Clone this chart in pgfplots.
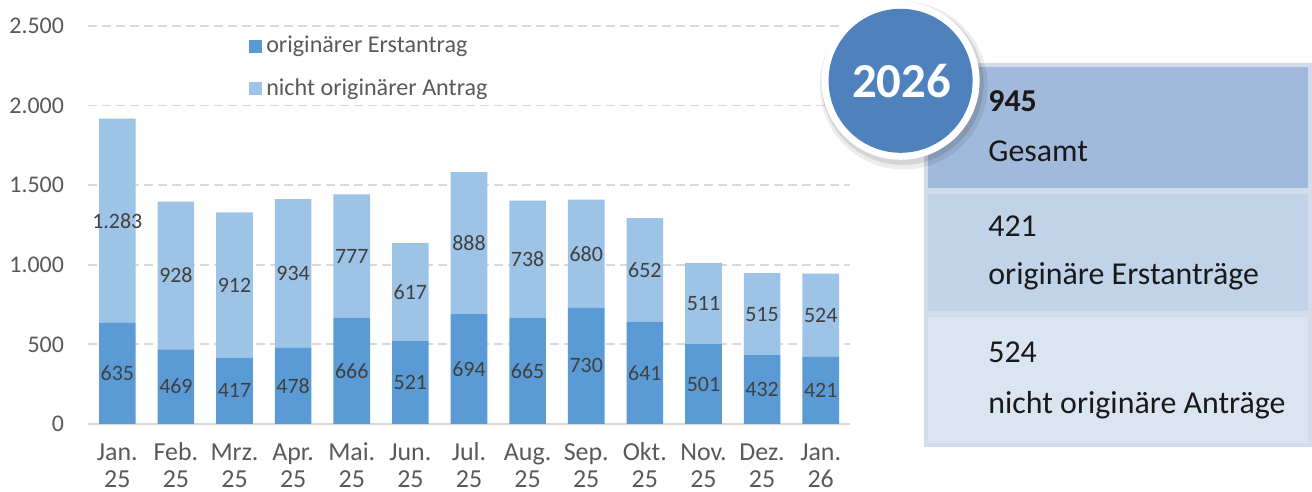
\documentclass[border=0pt]{standalone}
\usepackage{pgfplots}
\pgfplotsset{compat=1.18}
\usepackage{fontspec}
\setmainfont{Carlito}
\definecolor{cBot}{HTML}{5B9BD5}
\definecolor{cTop}{HTML}{9DC3E6}
\definecolor{cGrid}{HTML}{D9D9D9}
\definecolor{cTick}{HTML}{595959}
\definecolor{cLab}{HTML}{404040}
\definecolor{cCircle}{HTML}{4F81BD}
\definecolor{cBoxA}{HTML}{A1B9DA}
\definecolor{cBoxB}{HTML}{C0D3E9}
\definecolor{cBoxC}{HTML}{DBE4F1}
\definecolor{cBoxBorder}{HTML}{D3DCEA}

\pgfplotstableread{
x bot top
0 635 1283
1 469 928
2 417 912
3 478 934
4 666 777
5 521 617
6 694 888
7 665 738
8 730 680
9 641 652
10 501 511
11 432 515
12 421 524
}\datatable

\pgfplotsset{base/.style={
  scale only axis, width=381bp, height=199bp,
  xmin=-0.5, xmax=12.5, ymin=0, ymax=2500,
  at={(44bp,34bp)}, anchor=south west,
}}

\begin{document}
\begin{tikzpicture}
\useasboundingbox (0,0) rectangle (656bp,246bp);
\begin{axis}[base,
  ybar stacked, bar width=18.3bp,
  axis x line*=bottom, axis y line*=left,
  x axis line style={-, draw=cGrid, line width=1.2bp},
  y axis line style={draw=none},
  major tick length=0pt,
  ytick={0,500,1000,1500,2000,2500},
  ymajorgrids,
  grid style={cGrid, line width=0.9bp, dash pattern=on 4.5bp off 2.5bp},
  xtick={0,...,12},
  xticklabels={{\strut Jan.\\25},{\strut Feb.\\25},{\strut Mrz.\\25},{\strut Apr.\\25},{\strut Mai.\\25},{\strut Jun.\\25},{\strut Jul.\\25},{\strut Aug.\\25},{\strut Sep.\\25},{\strut Okt.\\25},{\strut Nov.\\25},{\strut Dez.\\25},{\strut Jan.\\26}},
  xticklabel style={align=center, anchor=north, font=\fontsize{13}{13.5}\selectfont, text=cTick, yshift=-5.3bp},
  yticklabel style={font=\fontsize{12}{13}\selectfont, text=cTick, xshift=-8.5bp},
  /pgf/number format/1000 sep={.},
  /pgf/number format/assume math mode=true,
  legend style={at={(0.203,0.995)}, anchor=north west, draw=none, fill=none,
    font=\fontsize{12.1}{13}\selectfont, text=cTick, row sep=7.5bp},
  legend cell align=left,
]
\addplot[fill=cBot, draw=none, legend image code/.code={\fill[cBot] (0bp,-3.3bp) rectangle (6.6bp,3.3bp);}] table[x=x, y=bot] {\datatable};
\addlegendentry{originärer Erstantrag}
\addplot[fill=cTop, draw=none, legend image code/.code={\fill[cTop] (0bp,-3.3bp) rectangle (6.6bp,3.3bp);}] table[x=x, y=top] {\datatable};
\addlegendentry{nicht originärer Antrag}
\end{axis}
\begin{axis}[base, hide axis,
  nodes near coords, point meta=explicit symbolic,
  every node near coord/.append style={anchor=center, font=\fontsize{11}{13}\selectfont, text=cLab}]
\addplot[draw=none, mark=none] coordinates {
(0,317.5) [635] (1,234.5) [469] (2,208.5) [417] (3,239) [478] (4,333) [666]
(5,260.5) [521] (6,347) [694] (7,332.5) [665] (8,365) [730] (9,320.5) [641]
(10,250.5) [501] (11,216) [432] (12,210.5) [421]};
\addplot[draw=none, mark=none] coordinates {
(0,1276.5) [1.283] (1,933) [928] (2,873) [912] (3,945) [934] (4,1054.5) [777]
(5,829.5) [617] (6,1138) [888] (7,1034) [738] (8,1070) [680] (9,967) [652]
(10,756.5) [511] (11,689.5) [515] (12,683) [524]};
\end{axis}
% right panel
\draw[cBoxBorder, line width=2bp, fill=cBoxA] (463bp,151bp) rectangle (655bp,213.5bp);
\draw[cBoxBorder, line width=2bp, fill=cBoxB] (463bp,89.5bp) rectangle (655bp,150bp);
\draw[cBoxBorder, line width=2bp, fill=cBoxC] (463bp,23.5bp) rectangle (655bp,88.5bp);
\begin{scope}[every node/.style={anchor=base west, inner sep=0pt, text=black!90, font=\fontsize{16}{18}\selectfont}]
\node[font=\fontsize{16}{18}\selectfont\bfseries] at (494bp,190bp) {945};
\node at (494bp,165bp) {Gesamt};
\node at (494bp,127.5bp) {421};
\node at (494bp,103.5bp) {originäre Erstanträge};
\node at (494bp,64.5bp) {524};
\node at (494bp,39.5bp) {nicht originäre Anträge};
\end{scope}
% circle
\fill[black, opacity=0.07] (451.8bp,203.2bp) circle (42bp);
\fill[black, opacity=0.10] (451.3bp,204bp) circle (40.5bp);
\fill[white] (450.3bp,205.6bp) circle (39.5bp);
\fill[cCircle] (450.3bp,205.6bp) circle (36bp);
\node[text=white, font=\fontsize{24.5}{28}\selectfont\bfseries] at (450.8bp,205.6bp) {2026};
\end{tikzpicture}
\end{document}
